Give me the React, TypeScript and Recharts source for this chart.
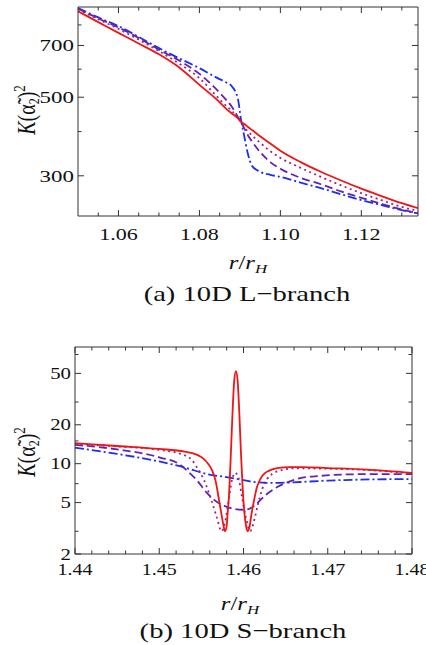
import React from 'react';
import { LineChart, Line, XAxis, YAxis } from 'recharts';

// ---------- (a) 10D L-branch ----------
const topR = [1.05, 1.055, 1.06, 1.065, 1.07, 1.075, 1.08, 1.0845, 1.0865, 1.088, 1.0895, 1.0903, 1.091, 1.092, 1.093, 1.095, 1.0975, 1.1, 1.105, 1.11, 1.115, 1.12, 1.125, 1.13, 1.134];
const topRed = [874, 815, 760, 709, 661, 607, 542, 490, 465, 450, 436, 426, 421, 412, 404, 388, 370, 353, 328, 308, 291, 276, 263, 251, 243];
const topDotted = [885, 830, 780, 727, 675, 622, 566, 500, 474, 458, 437, 425, 413, 400, 390, 372, 352, 337, 316, 298, 282, 268, 256, 245, 239];
const topDashed = [890, 835, 787, 735, 681, 635, 582, 522, 493, 470, 440, 425, 410, 390, 375, 350, 328, 314, 296, 284, 271, 260, 250, 241, 235];
const topDashDot = [893, 840, 794, 740, 688, 644, 604, 566, 551, 537, 495, 430, 392, 345, 320, 308, 302, 298, 287, 277, 266, 256, 248, 240, 235];
const topXTicks = [1.055, 1.06, 1.065, 1.07, 1.075, 1.08, 1.085, 1.09, 1.095, 1.1, 1.105, 1.11, 1.115, 1.12, 1.125, 1.13];
const topXMajor = [1.06, 1.08, 1.1, 1.12];
const topYTicks = [300, 400, 500, 600, 700, 800];
const topYMajor = [300, 500, 700];

// ---------- (b) 10D S-branch ----------
const bRedR = [1.44, 1.445, 1.45, 1.453, 1.4545, 1.4552, 1.4558, 1.4563, 1.4567, 1.4571, 1.4574, 1.4577, 1.4578, 1.458, 1.4581, 1.4583, 1.4585, 1.4587, 1.4589, 1.4591, 1.4593, 1.4595, 1.4597, 1.4599, 1.4601, 1.4603, 1.4605, 1.4607, 1.4609, 1.4612, 1.4616, 1.462, 1.4625, 1.463, 1.464, 1.4655, 1.467, 1.47, 1.4746, 1.48];
const bRedK = [14.4, 13.7, 13.0, 12.4, 11.7, 11.0, 10.0, 8.8, 7.3, 5.2, 4.0, 3.15, 3.0, 3.3, 4.0, 6.0, 12, 25, 44, 52, 44, 25, 12, 6.5, 4.2, 3.3, 3.0, 3.2, 3.9, 5.0, 6.6, 7.6, 8.4, 8.8, 9.25, 9.4, 9.4, 9.25, 9.0, 8.5];
const bDotR = [1.44, 1.445, 1.45, 1.4527, 1.4538, 1.4545, 1.4553, 1.4562, 1.4568, 1.4574, 1.4578, 1.4582, 1.4586, 1.459, 1.4594, 1.4598, 1.4603, 1.4608, 1.4612, 1.4617, 1.4622, 1.4628, 1.4635, 1.4645, 1.466, 1.47, 1.475, 1.48];
const bDotK = [14.2, 13.6, 12.8, 11.8, 10.8, 9.3, 7.5, 5.2, 3.9, 3.0, 3.5, 5.0, 7.3, 8.5, 7.8, 5.6, 3.8, 3.0, 3.5, 4.8, 6.3, 7.6, 8.4, 8.9, 9.2, 9.15, 8.9, 8.4];
const bDashR = [1.44, 1.445, 1.45, 1.4525, 1.4535, 1.4545, 1.4556, 1.4566, 1.4578, 1.459, 1.4598, 1.4606, 1.4614, 1.4626, 1.464, 1.4655, 1.467, 1.4687, 1.4707, 1.475, 1.48];
const bDashK = [14.0, 12.9, 11.2, 9.8, 8.6, 7.4, 6.0, 5.2, 4.7, 4.45, 4.4, 4.45, 4.8, 5.7, 6.6, 7.3, 7.8, 8.0, 8.2, 8.3, 8.3];
const bDashDotR = [1.44, 1.445, 1.45, 1.4531, 1.4557, 1.4578, 1.4598, 1.4614, 1.4635, 1.4655, 1.47, 1.475, 1.48];
const bDashDotK = [13.3, 11.9, 10.4, 9.3, 8.3, 7.9, 7.5, 7.2, 7.1, 7.15, 7.4, 7.55, 7.6];
const botXTicks = [1.44, 1.442, 1.444, 1.446, 1.448, 1.45, 1.452, 1.454, 1.456, 1.458, 1.46, 1.462, 1.464, 1.466, 1.468, 1.47, 1.472, 1.474, 1.476, 1.478, 1.48];
const botXMajor = [1.44, 1.45, 1.46, 1.47, 1.48];
const botYTicks = [2, 3, 5, 7, 10, 15, 20, 30, 50, 70];
const botYMajor = [2, 5, 10, 20, 50];

const RED = '#f01414';
const DOT = '#9c2383';
const DASH = '#6222b8';
const BLUE = '#1c2ef0';
const FRAME = '#333';
const FONT = '"Liberation Serif", "Times New Roman", serif';

const zip = (xs: number[], ys: number[]) => xs.map((r, i) => ({ r, k: ys[i] }));

const isMajor = (list: number[], v: number) => list.some((m) => Math.abs(m - v) < 1e-9);

function xTick(majors: number[], side: 'bottom' | 'top', fs: number, stretch: number, dy: number, digits: number) {
  return (props: any) => {
    const { x, y, payload } = props;
    const v = payload.value;
    const maj = isMajor(majors, v);
    const len = maj ? 6 : 3.5;
    const dir = side === 'bottom' ? -1 : 1;
    return (
      <g>
        <line x1={x} y1={y} x2={x} y2={y + dir * len} stroke={FRAME} strokeWidth={1} />
        {side === 'bottom' && maj ? (
          <g transform={`translate(${x},${y + dy}) scale(${stretch},1)`}>
            <text x={0} y={0} textAnchor="middle" dominantBaseline="central" fontSize={fs} fontFamily={FONT} fill="#111">
              {v.toFixed(digits)}
            </text>
          </g>
        ) : null}
      </g>
    );
  };
}

function yTick(majors: number[], side: 'left' | 'right', fs: number, stretch: number) {
  return (props: any) => {
    const { x, y, payload } = props;
    const v = payload.value;
    const maj = isMajor(majors, v);
    const len = maj ? 6 : 3.5;
    const dir = side === 'left' ? 1 : -1;
    return (
      <g>
        <line x1={x} y1={y} x2={x + dir * len} y2={y} stroke={FRAME} strokeWidth={1} />
        {side === 'left' && maj ? (
          <g transform={`translate(${x - 4},${y}) scale(${stretch},1)`}>
            <text x={0} y={0} textAnchor="end" dominantBaseline="central" fontSize={fs} fontFamily={FONT} fill="#111">
              {String(v)}
            </text>
          </g>
        ) : null}
      </g>
    );
  };
}

const abs = (left: number, top: number, extra: React.CSSProperties = {}): React.CSSProperties => ({
  position: 'absolute',
  left,
  top,
  fontFamily: FONT,
  color: '#111',
  whiteSpace: 'nowrap',
  lineHeight: 1,
  ...extra,
});

function YLabel({ left, top }: { left: number; top: number }) {
  return (
    <div style={abs(left, top, { fontSize: 20, transform: 'translate(-50%,-50%) rotate(-90deg) scaleY(1.3)' })}>
      <i>K</i>(α̃<span style={{ fontSize: 12, verticalAlign: '-0.25em' }}>2</span>)
      <span style={{ fontSize: 13, verticalAlign: '0.6em' }}>2</span>
    </div>
  );
}

function XLabel({ left, top }: { left: number; top: number }) {
  return (
    <div style={abs(left, top, { fontSize: 19, transform: 'translate(-50%,-50%) scaleX(1.3)' })}>
      <i>r</i>/<i>r</i>
      <i style={{ fontSize: 13, verticalAlign: '-0.3em' }}>H</i>
    </div>
  );
}

function Caption({ left, top, text }: { left: number; top: number; text: string }) {
  return <div style={abs(left, top, { fontSize: 22, transform: 'translate(-50%,-50%) scaleX(1.3)' })}>{text}</div>;
}

export default function App() {
  const dataRed = zip(topR, topRed);
  const dataDot = zip(topR, topDotted);
  const dataDash = zip(topR, topDashed);
  const dataDD = zip(topR, topDashDot);

  const tDom: [number, number] = [1.05, 1.134];
  const tYDom: [number, number] = [231, 899];
  const bDom: [number, number] = [1.44, 1.48];
  const bYDom: [number, number] = [2, 80];

  return (
    <div style={{ position: 'absolute', left: 0, top: 0, width: 426, height: 645, background: '#fff', overflow: 'hidden' }}>
      <div style={{ position: 'absolute', left: 0, top: 0 }}>
        <LineChart width={426} height={300} margin={{ top: 6, right: 7, bottom: 0, left: 0 }}>
          <XAxis xAxisId="b" dataKey="r" type="number" domain={tDom} allowDataOverflow ticks={topXTicks} interval={0}
            orientation="bottom" height={84} tickSize={0} tickMargin={0} tickLine={false}
            axisLine={{ stroke: FRAME, strokeWidth: 1 }} tick={xTick(topXMajor, 'bottom', 17, 1.3, 18, 2)} />
          <XAxis xAxisId="t" dataKey="r" type="number" domain={tDom} allowDataOverflow ticks={topXTicks} interval={0}
            orientation="top" height={1} tickSize={0} tickMargin={0} tickLine={false}
            axisLine={{ stroke: FRAME, strokeWidth: 1 }} tick={xTick(topXMajor, 'top', 17, 1.3, 0, 2)} />
          <YAxis yAxisId="l" dataKey="k" type="number" scale="log" domain={tYDom} allowDataOverflow ticks={topYTicks} interval={0}
            orientation="left" width={78} tickSize={0} tickMargin={0} tickLine={false}
            axisLine={{ stroke: FRAME, strokeWidth: 1 }} tick={yTick(topYMajor, 'left', 17, 1.35)} />
          <YAxis yAxisId="rt" dataKey="k" type="number" scale="log" domain={tYDom} allowDataOverflow ticks={topYTicks} interval={0}
            orientation="right" width={1} tickSize={0} tickMargin={0} tickLine={false}
            axisLine={{ stroke: FRAME, strokeWidth: 1 }} tick={yTick(topYMajor, 'right', 17, 1.35)} />
          <Line xAxisId="t" yAxisId="rt" data={dataRed} dataKey="k" type="monotone" stroke="none" dot={false} activeDot={false} isAnimationActive={false} />
          <Line xAxisId="b" yAxisId="l" data={dataDD} dataKey="k" type="monotone" stroke={BLUE} strokeWidth={1.8} strokeDasharray="9 3 2 3" dot={false} isAnimationActive={false} />
          <Line xAxisId="b" yAxisId="l" data={dataDash} dataKey="k" type="monotone" stroke={DASH} strokeWidth={1.8} strokeDasharray="8 4" dot={false} isAnimationActive={false} />
          <Line xAxisId="b" yAxisId="l" data={dataDot} dataKey="k" type="monotone" stroke={DOT} strokeWidth={1.8} strokeDasharray="2 3.5" dot={false} isAnimationActive={false} />
          <Line xAxisId="b" yAxisId="l" data={dataRed} dataKey="k" type="monotone" stroke={RED} strokeWidth={1.8} dot={false} isAnimationActive={false} />
        </LineChart>
      </div>
      <YLabel left={26} top={110} />
      <XLabel left={248} top={264} />
      <Caption left={247} top={294} text="(a) 10D L−branch" />

      <div style={{ position: 'absolute', left: 0, top: 320 }}>
        <LineChart width={426} height={325} margin={{ top: 26, right: 13, bottom: 0, left: 0 }}>
          <XAxis xAxisId="b" dataKey="r" type="number" domain={bDom} allowDataOverflow ticks={botXTicks} interval={0}
            orientation="bottom" height={91} tickSize={0} tickMargin={0} tickLine={false}
            axisLine={{ stroke: FRAME, strokeWidth: 1 }} tick={xTick(botXMajor, 'bottom', 16, 1.25, 16, 2)} />
          <XAxis xAxisId="t" dataKey="r" type="number" domain={bDom} allowDataOverflow ticks={botXTicks} interval={0}
            orientation="top" height={1} tickSize={0} tickMargin={0} tickLine={false}
            axisLine={{ stroke: FRAME, strokeWidth: 1 }} tick={xTick(botXMajor, 'top', 16, 1.25, 0, 2)} />
          <YAxis yAxisId="l" dataKey="k" type="number" scale="log" domain={bYDom} allowDataOverflow ticks={botYTicks} interval={0}
            orientation="left" width={75} tickSize={0} tickMargin={0} tickLine={false}
            axisLine={{ stroke: FRAME, strokeWidth: 1 }} tick={yTick(botYMajor, 'left', 16, 1.3)} />
          <YAxis yAxisId="rt" dataKey="k" type="number" scale="log" domain={bYDom} allowDataOverflow ticks={botYTicks} interval={0}
            orientation="right" width={1} tickSize={0} tickMargin={0} tickLine={false}
            axisLine={{ stroke: FRAME, strokeWidth: 1 }} tick={yTick(botYMajor, 'right', 16, 1.3)} />
          <Line xAxisId="t" yAxisId="rt" data={zip(bRedR, bRedK)} dataKey="k" type="monotone" stroke="none" dot={false} activeDot={false} isAnimationActive={false} />
          <Line xAxisId="b" yAxisId="l" data={zip(bDashDotR, bDashDotK)} dataKey="k" type="monotone" stroke={BLUE} strokeWidth={1.8} strokeDasharray="9 3 2 3" dot={false} isAnimationActive={false} />
          <Line xAxisId="b" yAxisId="l" data={zip(bDashR, bDashK)} dataKey="k" type="monotone" stroke={DASH} strokeWidth={1.8} strokeDasharray="8 4" dot={false} isAnimationActive={false} />
          <Line xAxisId="b" yAxisId="l" data={zip(bDotR, bDotK)} dataKey="k" type="monotone" stroke={DOT} strokeWidth={1.8} strokeDasharray="2 3.5" dot={false} isAnimationActive={false} />
          <Line xAxisId="b" yAxisId="l" data={zip(bRedR, bRedK)} dataKey="k" type="monotone" stroke={RED} strokeWidth={1.8} dot={false} isAnimationActive={false} />
        </LineChart>
      </div>
      <YLabel left={26} top={452} />
      <XLabel left={240} top={605} />
      <Caption left={243} top={631} text="(b) 10D S−branch" />
    </div>
  );
}
